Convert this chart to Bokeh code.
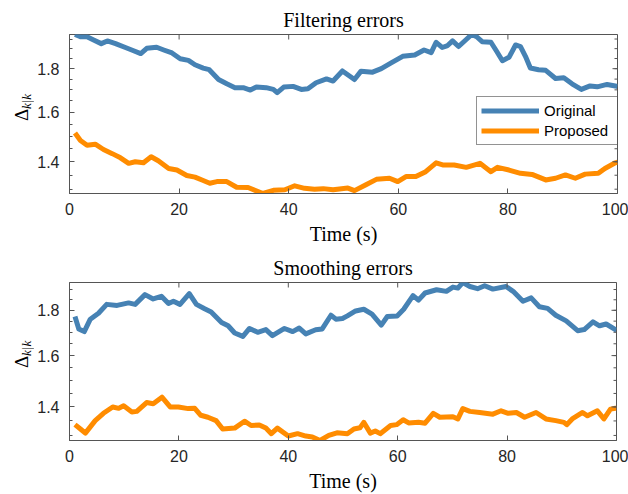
import math
from bokeh.plotting import figure
from bokeh.layouts import column, row
from bokeh.models import (FixedTicker, Label, Legend, LegendItem,
                          PrintfTickFormatter, Range1d)
from bokeh.embed import file_html
from bokeh.resources import INLINE

# ---------------- data ----------------
filt_orig_t = [1, 2, 3.2, 4.4, 5.8, 6.9, 8.4, 10.2, 11.7, 13.0, 14.1, 15.9, 17.2, 18.7, 20.2, 21.7, 22.9, 24.4, 25.5, 27.2,
               28.7, 30.2, 31.7, 33.0, 34.1, 35.9, 37.2, 37.9, 39.1, 40.8, 42.3, 43.5, 45.0, 46.9, 48.1, 49.8, 52.0, 53.2, 55.3, 56.9,
               58.7, 60.8, 63.0, 64.7, 66.0, 66.9, 68.0, 69.0, 69.9, 71.0, 72.3, 73.4, 74.3, 75.3, 76.9, 77.8, 79.0, 80.2, 81.4, 82.3,
               83.2, 84.1, 85.6, 86.9, 88.7, 90.2, 91.7, 93.4, 95.0, 96.3, 98.1, 99.6, 100]
filt_orig = [1.974, 1.962, 1.962, 1.945, 1.926, 1.940, 1.926, 1.906, 1.889, 1.875, 1.902, 1.907, 1.893, 1.878, 1.849, 1.841, 1.819, 1.803, 1.795, 1.748,
             1.728, 1.710, 1.710, 1.699, 1.713, 1.710, 1.702, 1.687, 1.713, 1.716, 1.702, 1.705, 1.733, 1.751, 1.741, 1.789, 1.748, 1.788, 1.783, 1.800,
             1.828, 1.861, 1.868, 1.893, 1.880, 1.933, 1.906, 1.916, 1.940, 1.911, 1.945, 1.974, 1.962, 1.936, 1.933, 1.893, 1.839, 1.856, 1.919, 1.911,
             1.861, 1.803, 1.795, 1.792, 1.753, 1.756, 1.728, 1.702, 1.718, 1.714, 1.725, 1.718, 1.715]

filt_prop_t = [1, 2, 3.2, 4.7, 6.2, 7.8, 9.3, 10.8, 12.0, 13.5, 14.9, 16.2, 18.1, 19.6, 21.4, 22.9, 24.4, 25.6, 26.9, 28.7,
               30.5, 32.6, 35.3, 37.2, 39.3, 41.1, 42.9, 44.7, 46.3, 48.1, 50.8, 52.0, 54.1, 56.0, 58.4, 59.9, 61.4, 63.2, 65.0, 66.9,
               68.1, 70.2, 72.4, 74.9, 76.9, 78.1, 80.2, 82.3, 84.4, 86.9, 88.7, 90.5, 92.3, 94.1, 96.5, 97.7, 99.6, 100]
filt_prop = [1.513, 1.483, 1.464, 1.468, 1.447, 1.431, 1.415, 1.394, 1.400, 1.396, 1.419, 1.404, 1.375, 1.369, 1.349, 1.343, 1.331, 1.321, 1.327, 1.327,
             1.307, 1.306, 1.285, 1.296, 1.298, 1.312, 1.303, 1.300, 1.302, 1.298, 1.304, 1.295, 1.316, 1.335, 1.339, 1.327, 1.345, 1.345, 1.363, 1.396,
             1.388, 1.388, 1.379, 1.394, 1.363, 1.379, 1.369, 1.357, 1.353, 1.333, 1.339, 1.351, 1.339, 1.354, 1.357, 1.375, 1.396, 1.398]

smooth_orig_t = [1, 1.7, 2.7, 3.8, 5.3, 6.8, 8.7, 10.8, 12.0, 13.8, 15.3, 16.8, 18.1, 19.0, 20.2, 21.9, 23.2, 24.7, 25.9, 27.8,
                 29.0, 30.2, 31.7, 32.9, 34.4, 35.9, 37.1, 39.3, 40.8, 42.0, 43.2, 45.0, 46.2, 47.8, 48.7, 49.9, 50.8, 52.3, 53.8, 55.3,
                 57.0, 58.1, 59.9, 61.1, 62.8, 63.8, 65.0, 67.1, 68.9, 70.1, 71.0, 71.9, 73.2, 74.6, 75.9, 77.4, 79.8, 81.1, 82.9, 84.4,
                 85.9, 87.4, 88.9, 90.8, 92.9, 94.1, 95.7, 96.9, 98.1, 99.8, 100]
smooth_orig = [1.771, 1.715, 1.703, 1.759, 1.786, 1.828, 1.823, 1.835, 1.828, 1.875, 1.854, 1.867, 1.832, 1.843, 1.828, 1.880, 1.828, 1.807, 1.792, 1.744,
               1.729, 1.697, 1.682, 1.717, 1.700, 1.712, 1.685, 1.717, 1.703, 1.719, 1.693, 1.711, 1.715, 1.777, 1.759, 1.762, 1.774, 1.797, 1.805, 1.782,
               1.732, 1.771, 1.774, 1.805, 1.870, 1.848, 1.883, 1.899, 1.891, 1.912, 1.907, 1.935, 1.915, 1.904, 1.919, 1.902, 1.915, 1.891, 1.843, 1.859,
               1.817, 1.809, 1.777, 1.751, 1.707, 1.712, 1.747, 1.729, 1.737, 1.712, 1.710]

smooth_prop_t = [1, 2, 2.9, 4.7, 6.2, 7.9, 9.0, 9.9, 11.4, 12.3, 14.1, 15.3, 16.9, 18.4, 19.9, 21.7, 22.9, 24.0, 25.3, 26.8,
                 28.0, 30.2, 32.0, 33.2, 34.7, 35.9, 36.9, 38.0, 40.0, 41.7, 43.2, 44.4, 45.8, 47.4, 48.9, 50.8, 52.0, 53.1, 53.8, 55.0,
                 55.9, 56.8, 58.7, 59.8, 61.0, 62.0, 63.8, 65.0, 66.5, 67.7, 70.1, 71.0, 71.9, 73.2, 75.0, 77.4, 78.9, 80.2, 81.7, 83.2,
                 85.3, 87.1, 88.9, 90.4, 90.9, 91.9, 93.8, 94.7, 96.5, 97.7, 98.9, 99.8, 100]
smooth_prop = [1.337, 1.322, 1.308, 1.351, 1.377, 1.400, 1.395, 1.404, 1.382, 1.384, 1.416, 1.412, 1.436, 1.400, 1.400, 1.394, 1.395, 1.370, 1.363, 1.351,
               1.322, 1.325, 1.349, 1.334, 1.336, 1.325, 1.306, 1.325, 1.298, 1.306, 1.298, 1.295, 1.283, 1.300, 1.309, 1.306, 1.322, 1.326, 1.345, 1.308,
               1.315, 1.306, 1.334, 1.337, 1.354, 1.343, 1.345, 1.342, 1.377, 1.363, 1.365, 1.357, 1.394, 1.384, 1.380, 1.374, 1.386, 1.377, 1.380, 1.363,
               1.380, 1.357, 1.351, 1.345, 1.337, 1.357, 1.380, 1.368, 1.386, 1.357, 1.392, 1.395, 1.395]

x_ticks = [0, 20, 40, 60, 80, 100]
y_ticks = [1.4, 1.6, 1.8]
y_minor_ticks = [1.25, 1.3, 1.35, 1.4, 1.45, 1.5, 1.55, 1.6, 1.65, 1.7, 1.75, 1.8, 1.85, 1.9, 1.95]
series_names = ["Original", "Proposed"]
titles = ["Filtering errors", "Smoothing errors"]
x_label = "Time (s)"
y_label_main = "Δ"
y_label_sub = "k|k"

BLUE = "#4682B4"
ORANGE = "#FF8C00"
FRAME = "#555555"
TXT = "#262626"
SERIF = "Liberation Serif"
SANS = "Liberation Sans"

STRIP_W = 34      # width of the strip that carries the rotated y label
PANEL_H = 247


def style_axis(ax):
    ax.axis_line_color = FRAME
    ax.axis_line_width = 1
    ax.major_tick_line_color = FRAME
    ax.minor_tick_line_color = FRAME
    ax.major_tick_in = 5
    ax.major_tick_out = 0
    ax.minor_tick_in = 3
    ax.minor_tick_out = 0
    ax.major_label_text_font = SANS
    ax.major_label_text_font_size = "16px"
    ax.major_label_text_color = TXT


def label_strip(dpos, spos):
    # a bare strip (no axes) whose data units are pixels measured from its top-left corner
    s = figure(width=STRIP_W, height=PANEL_H, x_range=Range1d(0, STRIP_W),
               y_range=Range1d(PANEL_H, 0), x_axis_location=None, y_axis_location=None,
               output_backend="svg", toolbar_location=None,
               min_border_left=0, min_border_right=0, min_border_top=0, min_border_bottom=0)
    s.grid.visible = False
    s.outline_line_color = None
    s.add_layout(Label(x=dpos[0], y=dpos[1], text=y_label_main,
                       angle=math.pi / 2, text_align="center", text_baseline="middle",
                       text_font=SERIF, text_font_size="19px", text_color="black"))
    s.add_layout(Label(x=spos[0], y=spos[1], text=y_label_sub,
                       angle=math.pi / 2, text_align="center", text_baseline="middle",
                       text_font=SERIF, text_font_size="13px", text_font_style="italic",
                       text_color="black"))
    return s


def make_panel(title, t_o, v_o, t_p, v_p, left, right, top, bottom, legend):
    ymin = min(min(v_o), min(v_p))
    ymax = max(max(v_o), max(v_p))
    p = figure(width=628 - STRIP_W, height=PANEL_H, y_axis_type="log",
               x_range=Range1d(0, 100), y_range=Range1d(ymin, ymax),
               output_backend="svg", toolbar_location=None,
               min_border_left=left, min_border_right=right,
               min_border_top=top, min_border_bottom=bottom)
    p.title.text = title
    p.title.text_font = SERIF
    p.title.text_font_size = "20px"
    p.title.text_font_style = "normal"
    p.title.text_color = "black"
    p.title.align = "center"
    p.title.standoff = 7
    p.grid.visible = False
    p.outline_line_color = FRAME
    p.outline_line_width = 1
    p.background_fill_color = "white"
    p.border_fill_color = "white"

    xa = p.xaxis[0]
    xa.ticker = FixedTicker(ticks=x_ticks, minor_ticks=[])
    style_axis(xa)
    xa.major_label_standoff = 9
    xa.axis_label = x_label
    xa.axis_label_text_font = SERIF
    xa.axis_label_text_font_size = "20px"
    xa.axis_label_text_font_style = "normal"
    xa.axis_label_text_color = "black"
    xa.axis_label_standoff = 5

    ya = p.yaxis[0]
    ya.ticker = FixedTicker(ticks=y_ticks, minor_ticks=y_minor_ticks)
    ya.formatter = PrintfTickFormatter(format="%.1f")
    style_axis(ya)
    ya.major_label_standoff = 10

    r1 = p.line(t_o, v_o, line_color=BLUE, line_width=5, line_join="round")
    r2 = p.line(t_p, v_p, line_color=ORANGE, line_width=5, line_join="round")

    # inward ticks on the top and right edges of the box (outer half of each dash is clipped)
    p.scatter(x=x_ticks, y=[ymax] * len(x_ticks), marker="dash", size=10, angle=math.pi / 2,
              line_color=FRAME, line_width=1)
    p.scatter(x=[100] * len(y_ticks), y=y_ticks, marker="dash", size=10,
              line_color=FRAME, line_width=1)
    minor_in = [v for v in y_minor_ticks if ymin <= v <= ymax]
    p.scatter(x=[100] * len(minor_in), y=minor_in, marker="dash", size=6,
              line_color=FRAME, line_width=1)

    if legend:
        lg = Legend(items=[LegendItem(label=series_names[0], renderers=[r1]),
                           LegendItem(label=series_names[1], renderers=[r2])],
                    location=(407, 48))
        lg.glyph_width = 58
        lg.glyph_height = 19
        lg.label_height = 19
        lg.label_width = 70
        lg.label_standoff = 5
        lg.padding = 4
        lg.spacing = 1
        lg.margin = 0
        lg.label_text_font = SANS
        lg.label_text_font_size = "15px"
        lg.label_text_color = "black"
        lg.border_line_color = "#262626"
        lg.border_line_width = 1
        lg.background_fill_color = "white"
        lg.background_fill_alpha = 1
        p.add_layout(lg, "center")
    return p


p1 = make_panel(titles[0], filt_orig_t, filt_orig, filt_prop_t, filt_prop,
                left=67 - STRIP_W, right=11, top=34, bottom=52, legend=True)
p2 = make_panel(titles[1], smooth_orig_t, smooth_orig, smooth_prop_t, smooth_prop,
                left=66 - STRIP_W, right=12, top=35, bottom=52, legend=False)
s1 = label_strip(dpos=(21, 125), spos=(26, 104))
s2 = label_strip(dpos=(21, 124), spos=(26, 103))

layout = column(row(s1, p1, spacing=0), row(s2, p2, spacing=0), spacing=0)
open("out.html", "w").write(file_html(layout, INLINE))
